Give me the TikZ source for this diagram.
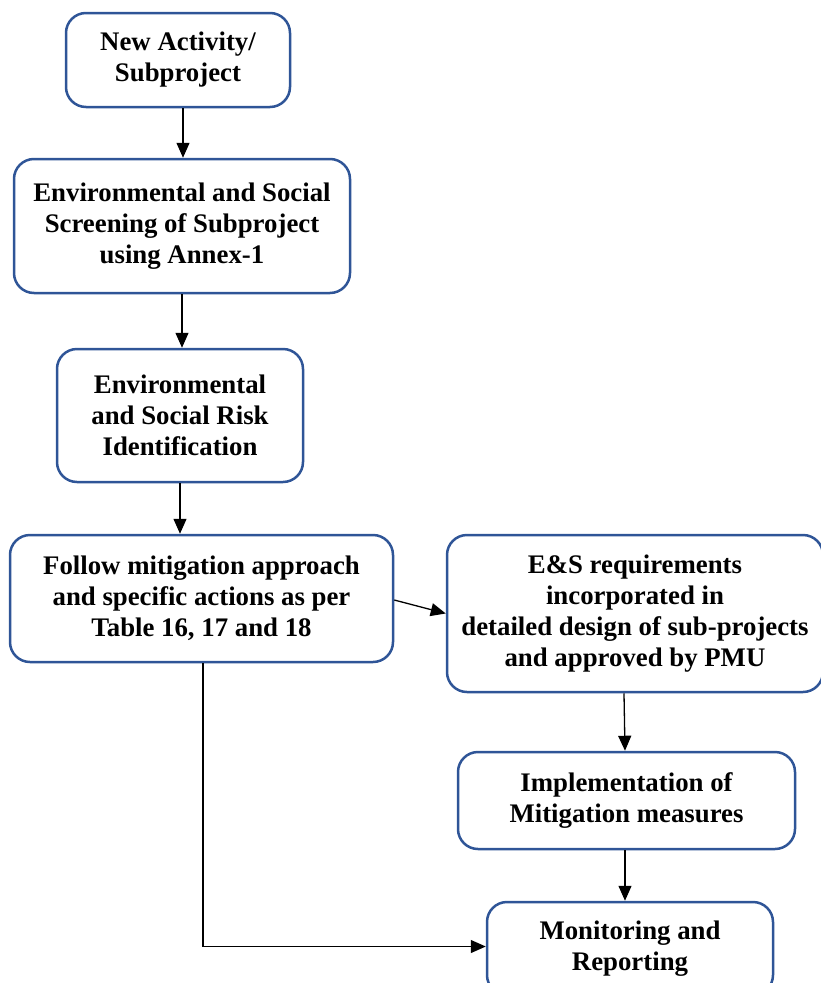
\documentclass[tikz,border=0pt]{standalone}
\usepackage{fontspec}
\setmainfont{Liberation Serif}
\usetikzlibrary{arrows.meta}
\definecolor{boxblue}{RGB}{47,85,151}
\begin{document}
\begin{tikzpicture}[x=1pt,y=-1pt,
 box/.style={draw=boxblue, line width=2.5pt, rounded corners=20pt, align=center, inner sep=0pt,
   font=\fontsize{26.8}{31}\selectfont\bfseries},
 arr/.style={line width=1.3pt, -{Triangle[length=15pt,width=13pt]}}]
\useasboundingbox (0,0) rectangle (820,983);
\node[box, minimum width=224pt, minimum height=94pt] (n1) at (178,60) {New Activity/\\Subproject};
\node[box, minimum width=336pt, minimum height=134pt] (n2) at (182,226) {Environmental and Social\\Screening of Subproject\\using Annex-1};
\node[box, minimum width=246pt, minimum height=133pt] (n3) at (180,415.5) {Environmental\\and Social Risk\\Identification};
\node[box, minimum width=383pt, minimum height=127pt] (n4) at (201.5,598.5) {Follow mitigation approach\\and specific actions as per\\Table 16, 17 and 18};
\node[box, minimum width=376pt, minimum height=157pt] (n5) at (635,613.5) {E\&S requirements\\incorporated in\\detailed design of sub-projects\\and approved by PMU};
\node[box, minimum width=337pt, minimum height=97pt] (n6) at (626.5,800.5) {Implementation of\\Mitigation measures};
\node[box, minimum width=286pt, minimum height=93pt] (n7) at (630,948.5) {Monitoring and\\Reporting};

\draw[arr] ([xshift=5pt]n1.south) -- ([xshift=1pt]n2.north);
\draw[arr] (n2.south) -- ([xshift=2pt]n3.north);
\draw[arr] (n3.south) -- (n3.south |- n4.north);
\draw[arr] ([yshift=-1.5pt]n4.east) -- (n5.west);
\draw[arr] ([xshift=-11pt]n5.south) -- ([xshift=-1.5pt]n6.north);
\draw[arr] ([xshift=-1.5pt]n6.south) -- ([xshift=-1.5pt]n6.south |- n7.north);
\draw[arr] ([xshift=1.5pt]n4.south) |- ([yshift=2pt]n7.west);
\end{tikzpicture}
\end{document}
